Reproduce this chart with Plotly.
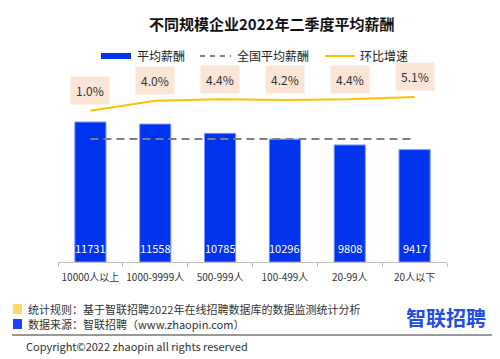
import plotly.graph_objects as go

categories = ["10000人以上", "1000-9999人", "500-999人", "100-499人", "20-99人", "20人以下"]
avg_salary = [11731, 11558, 10785, 10296, 9808, 9417]
national_avg = [10300] * 6
growth = [1.0, 4.0, 4.4, 4.2, 4.4, 5.1]
growth_labels = ["1.0%", "4.0%", "4.4%", "4.2%", "4.4%", "5.1%"]

FONT = "Noto Sans CJK SC"
W, H = 500, 359

def py(px):
    return 1 - px / H

def pxx(px):
    return px / W

fig = go.Figure()
fig.add_trace(go.Bar(
    x=categories, y=avg_salary, marker=dict(color="#0033EE", line=dict(color="#7A95FF", width=1)),
    width=0.48, showlegend=False, hoverinfo="skip"))
fig.add_trace(go.Scatter(
    x=categories, y=national_avg, mode="lines",
    line=dict(color="#808080", width=2, dash="8px,5px"), showlegend=False))
fig.add_trace(go.Scatter(
    x=categories, y=growth, mode="lines", yaxis="y2",
    line=dict(color="#FFC000", width=2), showlegend=False))

ann = []
for c, v in zip(categories, avg_salary):
    ann.append(dict(x=c, y=0, xref="x", yref="y", text=str(v), showarrow=False,
                    yanchor="middle", yshift=14, font=dict(family=FONT, size=11, color="white")))
for c, g, t in zip(categories, growth, growth_labels):
    ann.append(dict(x=c, y=g, xref="x", yref="y2", text=t, showarrow=False,
                    yanchor="middle", yshift=20, bgcolor="#FBE5D6", borderpad=5,
                    font=dict(family=FONT, size=12, color="#333333")))

# title
ann.append(dict(x=pxx(271), y=py(23), xref="paper", yref="paper", text="<b>不同规模企业2022年二季度平均薪酬</b>",
                showarrow=False, xanchor="center", yanchor="middle",
                font=dict(family=FONT, size=15, color="#111111")))
# legend texts
for x0, t in [(135, "平均薪酬"), (235, "全国平均薪酬"), (358, "环比增速")]:
    ann.append(dict(x=pxx(x0), y=py(55), xref="paper", yref="paper", text=t, showarrow=False,
                    xanchor="left", yanchor="middle", font=dict(family=FONT, size=12, color="#222222")))
# footer
ann.append(dict(x=pxx(26), y=py(309), xref="paper", yref="paper",
                text="统计规则：基于智联招聘2022年在线招聘数据库的数据监测统计分析", showarrow=False,
                xanchor="left", yanchor="middle", font=dict(family=FONT, size=11, color="#333333")))
ann.append(dict(x=pxx(26), y=py(324), xref="paper", yref="paper",
                text="数据来源：智联招聘（www.zhaopin.com）", showarrow=False,
                xanchor="left", yanchor="middle", font=dict(family=FONT, size=11, color="#333333")))
ann.append(dict(x=pxx(24), y=py(346), xref="paper", yref="paper",
                text="Copyright©2022 zhaopin all rights reserved", showarrow=False,
                xanchor="left", yanchor="middle", font=dict(family=FONT, size=11, color="#333333")))
ann.append(dict(x=pxx(446), y=py(317), xref="paper", yref="paper", text="<b>智联招聘</b>", showarrow=False,
                xanchor="center", yanchor="middle", font=dict(family=FONT, size=20, color="#1F4FE8")))

shapes = [
    dict(type="rect", xref="paper", yref="paper", x0=pxx(101), x1=pxx(131), y0=py(59), y1=py(53),
         fillcolor="#0033EE", line=dict(width=0)),
    dict(type="line", xref="paper", yref="paper", x0=pxx(200), x1=pxx(231), y0=py(56), y1=py(56),
         line=dict(color="#555555", width=1.5, dash="5px,5px")),
    dict(type="line", xref="paper", yref="paper", x0=pxx(325), x1=pxx(355), y0=py(56), y1=py(56),
         line=dict(color="#FFC000", width=2)),
    dict(type="rect", xref="paper", yref="paper", x0=pxx(13), x1=pxx(22), y0=py(314), y1=py(304),
         fillcolor="#FFD966", line=dict(width=0)),
    dict(type="rect", xref="paper", yref="paper", x0=pxx(13), x1=pxx(22), y0=py(329), y1=py(319),
         fillcolor="#1F3FFF", line=dict(width=0)),
    dict(type="line", xref="paper", yref="paper", x0=pxx(12), x1=pxx(492), y0=py(335), y1=py(335),
         line=dict(color="#333333", width=1)),
]

fig.update_layout(
    width=W, height=H, margin=dict(l=0, r=0, t=0, b=0),
    paper_bgcolor="white", plot_bgcolor="white",
    font=dict(family=FONT, size=11, color="#333333"),
    xaxis=dict(domain=[pxx(58), pxx(447)], showline=True, linecolor="#BFBFBF", linewidth=1,
               ticks="outside", ticklen=4, tickcolor="#BFBFBF", tickson="boundaries", tickangle=0,
               ticklabelstandoff=6,
               tickfont=dict(family=FONT, size=10, color="#333333"), showgrid=False, automargin=False),
    yaxis=dict(domain=[py(262), py(60)], range=[0, 16930], visible=False, showgrid=False),
    yaxis2=dict(overlaying="y", range=[-44.3, 16.17], visible=False, showgrid=False),
    bargap=0.52, annotations=ann, shapes=shapes, showlegend=False,
)

fig.write_html("out.html", config={"displayModeBar": False},
               post_script="document.body.style.margin='0';document.body.style.overflow='hidden';")
